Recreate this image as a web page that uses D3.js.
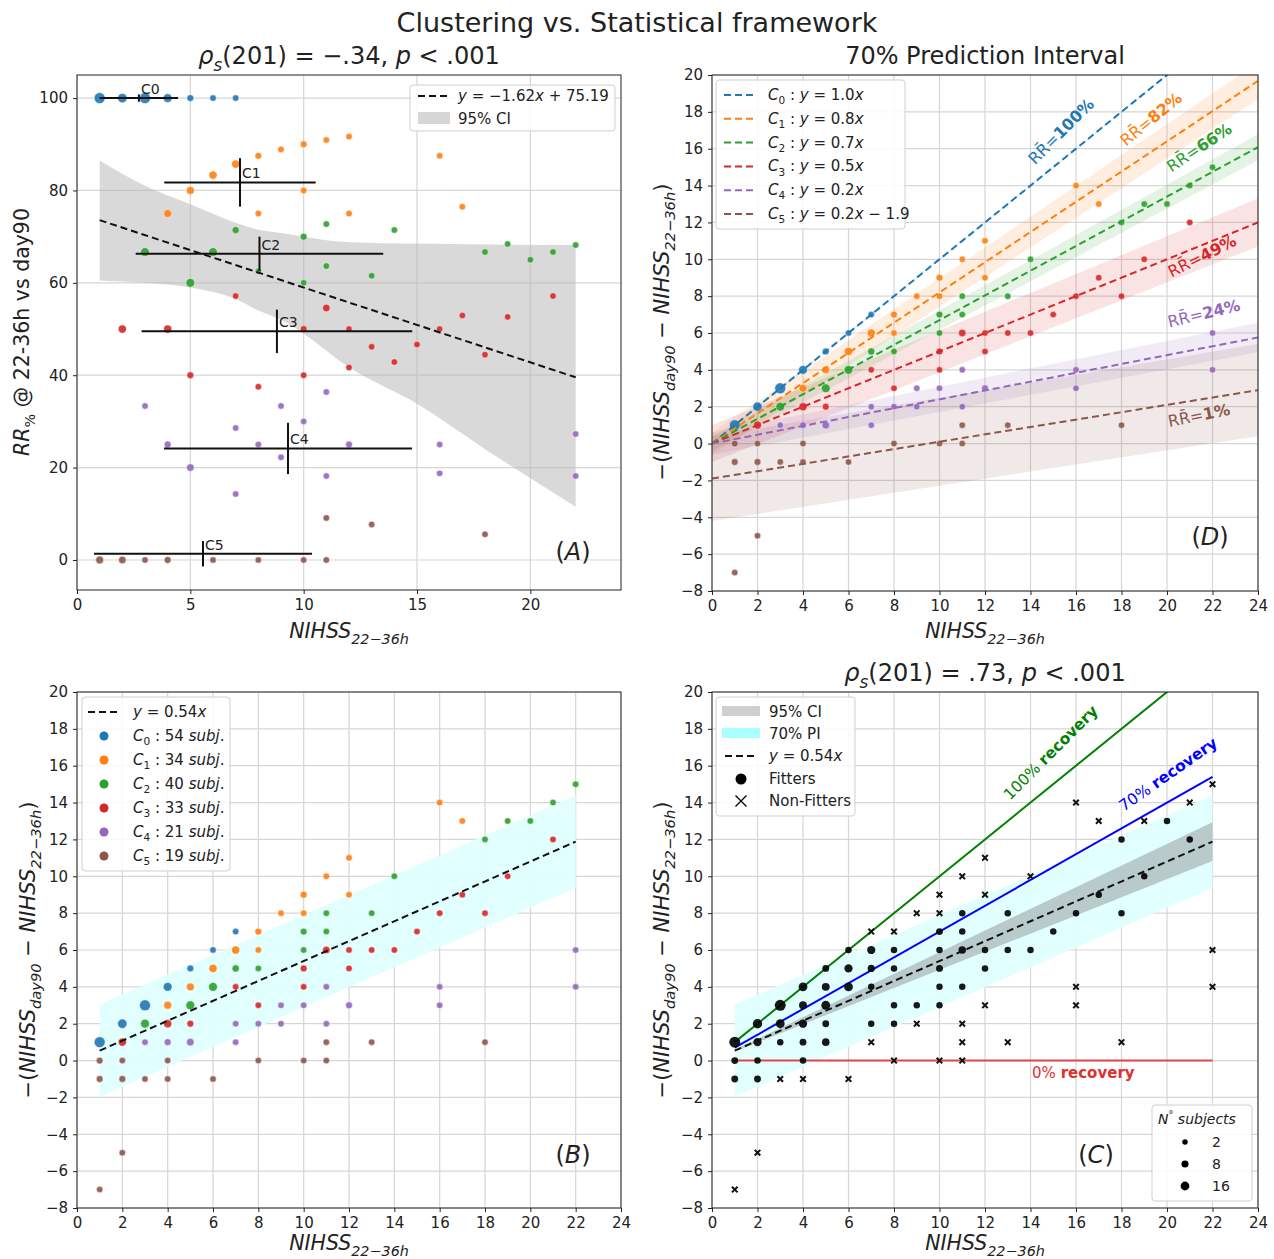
<!DOCTYPE html>
<html>
<head>
<meta charset="utf-8">
<script src="https://cdn.jsdelivr.net/npm/d3@7"></script>
<style>
  body { margin: 0; background: #fff; }
  text { font-family: "DejaVu Sans", sans-serif; }
</style>
</head>
<body>
<div id="chart"></div>
<script>
// ---- data: [NIHSS 22-36h, improvement, n subjects] per cluster ----
var c0Points = [[1,1,16],[2,2,10],[3,3,16],[4,4,8],[5,5,2],[6,6,1],[7,7,1]];
var c1Points = [[4,3,5],[5,4,5],[6,5,6],[7,6,6],[8,7,2],[8,6,1],[9,8,1],[10,9,2],[10,8,1],[11,10,1],[12,11,1],[12,9,1],[16,14,1],[17,13,1]];
var c2Points = [[3,2,8],[5,3,8],[6,4,8],[7,5,3],[8,5,1],[10,6,1],[10,7,2],[11,7,1],[11,8,1],[13,8,1],[14,10,1],[18,12,1],[19,13,1],[20,13,1],[21,14,1],[22,15,1]];
var c3Points = [[2,1,6],[4,2,6],[5,2,2],[7,4,1],[8,3,1],[10,5,2],[10,4,1],[11,6,4],[12,6,1],[12,5,1],[13,6,1],[14,6,1],[15,7,1],[16,8,1],[17,9,1],[18,8,1],[19,10,1],[21,12,1]];
var c4Points = [[3,1,1],[4,1,2],[5,1,4],[7,2,1],[7,1,1],[8,2,1],[9,3,1],[9,2,1],[10,3,1],[11,4,1],[11,2,1],[12,3,2],[16,4,1],[16,3,1],[22,6,1],[22,4,1]];
var c5Points = [[1,0,2],[1,-1,2],[1,-7,1],[2,0,1],[2,-1,2],[2,-5,1],[3,-1,1],[4,0,1],[4,-1,1],[6,-1,1],[8,0,1],[10,0,1],[11,0,1],[11,1,1],[13,1,1],[18,1,1]];
var clusters = [c0Points, c1Points, c2Points, c3Points, c4Points, c5Points];
var clusterNames = ["0", "1", "2", "3", "4", "5"];
var clusterSubj = [54, 34, 40, 33, 21, 19];
var clusterColors = ["#1f77b4", "#ff7f0e", "#2ca02c", "#d62728", "#9467bd", "#8c564b"];

// panel A: cluster centroids (mean +/- sd)
var centX = [2.73, 7.19, 8.05, 8.82, 9.31, 5.56];
var centXerr = [1.73, 3.34, 5.46, 5.97, 5.47, 4.81];
var centY = [100, 81.75, 66.3, 49.5, 24.15, 1.35];
var centYerr = [0.8, 5.25, 3.7, 4.7, 5.55, 2.75];
// panel A: regression + bootstrap CI
var aSlope = -1.62, aIntercept = 75.19;
var ciX = [1, 3, 5, 7, 8, 9, 10, 12, 15, 18, 22];
var ciLo = [60.5, 60.0, 59.0, 56.5, 54.0, 52.0, 49.0, 41.7, 33.8, 24.0, 11.5];
var ciHi = [86.5, 81.0, 77.0, 73.0, 71.5, 70.8, 70.0, 68.8, 68.5, 68.3, 68.2];

// panel D: per-cluster fits
var dSlopes = [1.0, 0.82, 0.67, 0.5, 0.24, 0.2];
var dIntercepts = [0, 0, 0, 0, 0, -1.9];
var dLegendFit = ["1.0", "0.8", "0.7", "0.5", "0.2", "0.2"];
var dPiStart = [0.05, 0.6, 0.4, 1.0, 0.6, 2.3];
var dPiEnd = [0.05, 1.0, 0.7, 1.3, 0.8, 2.5];
var rrValues = ["100%", "82%", "66%", "49%", "24%", "1%"];
var rrLabelX = [14.2, 18.2, 20.2, 20.2, 20.1, 20.1];
var rrLabelY = [15.1, 16.1, 14.7, 9.0, 6.3, 0.9];

// panels B and C: pooled fit
var bSlope = 0.54;
var piHalf = 2.5;
var ciSlopeLo = 0.492, ciSlopeHi = 0.588;
var fitRange = [1, 22];

// panel C: fitters [x, y, n] and non-fitters [x, y]
var cFitters = [[1,1,16],[2,2,10],[3,3,16],[4,4,8],[5,5,2],[4,3,5],[5,4,5],[6,5,6],[7,6,6],[8,6,1],[3,2,8],[5,3,8],[6,4,8],[7,5,3],[8,5,1],[10,6,1],[10,7,2],[11,7,1],[11,8,1],[13,8,1],[18,12,1],[20,13,1],[2,1,6],[4,2,6],[5,2,2],[7,4,1],[8,3,1],[10,5,2],[10,4,1],[11,6,4],[12,6,1],[12,5,1],[13,6,1],[14,6,1],[15,7,1],[16,8,1],[17,9,1],[18,8,1],[19,10,1],[21,12,1],[3,1,1],[4,1,2],[5,1,4],[7,2,1],[8,2,1],[9,3,1],[10,3,1],[11,4,1],[1,0,2],[1,-1,2],[2,0,1],[2,-1,2],[4,0,1],[6,6,1]];
var cNonFitters = [[1,-7],[2,-5],[3,-1],[4,-1],[6,-1],[8,0],[10,0],[11,0],[11,1],[13,1],[18,1],[7,1],[9,2],[11,2],[12,3],[16,3],[16,4],[22,4],[22,6],[7,7],[8,7],[9,8],[10,8],[10,9],[11,10],[12,11],[12,9],[14,10],[16,14],[17,13],[19,13],[21,14],[22,15]];
var sizeLegend = [2, 8, 16];

// ticks
var aXTicks = [0, 5, 10, 15, 20];
var aYTicks = [0, 20, 40, 60, 80, 100];
var xTicks = [0, 2, 4, 6, 8, 10, 12, 14, 16, 18, 20, 22, 24];
var yTicks = [-8, -6, -4, -2, 0, 2, 4, 6, 8, 10, 12, 14, 16, 18, 20];

var font = "DejaVu Sans";
var ink = "#222";
var gridColor = "#d6d6d6";

var svg = d3.select("#chart").append("svg")
  .attr("width", 1274)
  .attr("height", 1259);

var areaScale = d3.scaleLinear().domain([1, 16]).range([10.5, 30]);
function radius(n) { return Math.sqrt(areaScale(n)); }

// text with italic / subscript / bold runs: [["txt","isb"], ...]
function rich(t, parts, size) {
  var shift = 0;
  parts.forEach(function(p) {
    var f = p[1] || "";
    var ts = t.append("tspan").text(p[0]);
    var target = f.indexOf("s") >= 0 ? size * 0.28 : (f.indexOf("u") >= 0 ? -size * 0.4 : 0);
    if (target !== shift) { ts.attr("dy", target - shift); shift = target; }
    if (target !== 0) ts.attr("font-size", size * 0.7);
    if (f.indexOf("i") >= 0) ts.attr("font-style", "italic");
    if (f.indexOf("b") >= 0) ts.attr("font-weight", "bold");
  });
  return t;
}

var clipCount = 0;
function panel(box, xDom, yDom, xT, yT) {
  var g = svg.append("g").attr("transform", "translate(" + box.left + "," + box.top + ")");
  var x = d3.scaleLinear().domain(xDom).range([0, box.width]);
  var y = d3.scaleLinear().domain(yDom).range([box.height, 0]);
  var id = "clip" + (clipCount++);
  g.append("clipPath").attr("id", id).append("rect")
    .attr("width", box.width).attr("height", box.height);
  g.append("g").selectAll("line").data(xT).enter().append("line")
    .attr("x1", d => x(d)).attr("x2", d => x(d))
    .attr("y1", 0).attr("y2", box.height)
    .attr("stroke", gridColor).attr("stroke-width", 1.2);
  g.append("g").selectAll("line").data(yT).enter().append("line")
    .attr("y1", d => y(d)).attr("y2", d => y(d))
    .attr("x1", 0).attr("x2", box.width)
    .attr("stroke", gridColor).attr("stroke-width", 1.2);
  var plot = g.append("g").attr("clip-path", "url(#" + id + ")");
  return { g: g, plot: plot, x: x, y: y, box: box, xT: xT, yT: yT };
}

function finish(p) {
  var xa = p.g.append("g").attr("transform", "translate(0," + p.box.height + ")")
    .call(d3.axisBottom(p.x).tickValues(p.xT).tickSize(4).tickPadding(5).tickSizeOuter(0));
  var ya = p.g.append("g")
    .call(d3.axisLeft(p.y).tickValues(p.yT).tickSize(4).tickPadding(5).tickSizeOuter(0));
  [xa, ya].forEach(function(a) {
    a.attr("font-size", 15).attr("font-family", font);
    a.select(".domain").remove();
    a.selectAll("line").attr("stroke", ink);
    a.selectAll("text").attr("fill", ink);
  });
  p.g.append("rect").attr("width", p.box.width).attr("height", p.box.height)
    .attr("fill", "none").attr("stroke", ink).attr("stroke-width", 1);
}

function legendBox(x, y, w, h) {
  svg.append("rect").attr("x", x).attr("y", y).attr("width", w).attr("height", h)
    .attr("rx", 3).attr("fill", "#fff").attr("fill-opacity", 0.85)
    .attr("stroke", "#cfcfcf");
}

function dashSample(x, y, color) {
  svg.append("line").attr("x1", x).attr("x2", x + 32).attr("y1", y).attr("y2", y)
    .attr("stroke", color).attr("stroke-width", 2).attr("stroke-dasharray", "7,4");
}

function label(x, y, parts, size, opts) {
  opts = opts || {};
  var t = svg.append("text").attr("x", x).attr("y", y)
    .attr("font-size", size).attr("fill", opts.fill || ink)
    .attr("text-anchor", opts.anchor || "start");
  if (opts.rotate) t.attr("transform", "rotate(" + opts.rotate + "," + x + "," + y + ")");
  return rich(t, parts, size);
}

function drawClusters(p) {
  clusters.forEach(function(pts, i) {
    p.plot.append("g").selectAll("circle").data(pts).enter().append("circle")
      .attr("cx", d => p.x(d[0])).attr("cy", d => p.y(d[1]))
      .attr("r", d => radius(d[2]))
      .attr("fill", clusterColors[i]).attr("fill-opacity", 0.9)
      .attr("stroke", "#fff").attr("stroke-width", 0.5);
  });
}

var nihssLabel = [["NIHSS", "i"], ["22−36h", "is"]];
var deltaLabel = [["−(", ""], ["NIHSS", "i"], ["day90", "is"], [" − ", ""], ["NIHSS", "i"], ["22−36h", "is"], [")", ""]];

// ---------- suptitle ----------
label(637, 32, [["Clustering vs. Statistical framework", ""]], 27, { anchor: "middle" });

// ---------- panel A ----------
var pA = panel({ left: 77, top: 75, width: 544, height: 515 }, [0, 24], [-6.5, 105], aXTicks, aYTicks);
pA.plot.append("path")
  .datum(ciX.map((d, i) => [d, ciLo[i], ciHi[i]]))
  .attr("d", d3.area().x(d => pA.x(d[0])).y0(d => pA.y(d[1])).y1(d => pA.y(d[2])).curve(d3.curveMonotoneX))
  .attr("fill", "#b4b4b4").attr("fill-opacity", 0.5);
clusters.forEach(function(pts, i) {
  var rr = d3.rollups(pts, v => d3.sum(v, d => d[2]), d => d[0] + "|" + Math.max(0, d[1] / d[0] * 100))
    .map(function(e) { var k = e[0].split("|"); return [+k[0], +k[1], e[1]]; });
  pA.plot.append("g").selectAll("circle").data(rr).enter().append("circle")
    .attr("cx", d => pA.x(d[0])).attr("cy", d => pA.y(d[1]))
    .attr("r", d => radius(d[2]))
    .attr("fill", clusterColors[i]).attr("fill-opacity", 0.9)
    .attr("stroke", "#fff").attr("stroke-width", 0.5);
});
pA.plot.append("path")
  .datum(fitRange)
  .attr("d", d3.line().x(d => pA.x(d)).y(d => pA.y(aSlope * d + aIntercept)))
  .attr("stroke", "#111").attr("stroke-width", 2).attr("stroke-dasharray", "7,4").attr("fill", "none");
centX.forEach(function(cx, i) {
  var g = pA.plot.append("g");
  g.append("line").attr("x1", pA.x(cx - centXerr[i])).attr("x2", pA.x(cx + centXerr[i]))
    .attr("y1", pA.y(centY[i])).attr("y2", pA.y(centY[i]))
    .attr("stroke", "#111").attr("stroke-width", 2);
  g.append("line").attr("x1", pA.x(cx)).attr("x2", pA.x(cx))
    .attr("y1", pA.y(centY[i] - centYerr[i])).attr("y2", pA.y(centY[i] + centYerr[i]))
    .attr("stroke", "#111").attr("stroke-width", 2);
  g.append("text").attr("x", pA.x(cx) + 2).attr("y", pA.y(centY[i]) - 4)
    .attr("font-size", 14).attr("fill", ink).text("C" + clusterNames[i]);
});
finish(pA);
legendBox(410, 85, 205, 46);
dashSample(418, 96, "#111");
label(458, 101, [["y", "i"], [" = −1.62", ""], ["x", "i"], [" + 75.19", ""]], 15);
svg.append("rect").attr("x", 418).attr("y", 112).attr("width", 32).attr("height", 12).attr("fill", "#d6d6d6");
label(458, 124, [["95% CI", ""]], 15);
label(349, 64, [["ρ", "i"], ["s", "is"], ["(201) = −.34, ", ""], ["p", "i"], [" < .001", ""]], 24, { anchor: "middle" });
label(349, 638, nihssLabel, 20.5, { anchor: "middle" });
label(29, 332, [["RR", "i"], ["%", "s"], [" @ 22-36h vs day90", ""]], 20.5, { anchor: "middle", rotate: -90 });
label(573, 560, [["(", ""], ["A", "i"], [")", ""]], 24, { anchor: "middle" });

// ---------- panel D ----------
var pD = panel({ left: 712, top: 75, width: 546, height: 516 }, [0, 24], [-8, 20], xTicks, yTicks);
var dX = [0, 24];
dSlopes.forEach(function(m, i) {
  var b = dIntercepts[i];
  pD.plot.append("path")
    .datum(dX.map((d, j) => [d, j ? dPiEnd[i] : dPiStart[i]]))
    .attr("d", d3.area().x(d => pD.x(d[0])).y0(d => pD.y(m * d[0] + b - d[1])).y1(d => pD.y(m * d[0] + b + d[1])))
    .attr("fill", clusterColors[i]).attr("fill-opacity", 0.13);
});
drawClusters(pD);
dSlopes.forEach(function(m, i) {
  var b = dIntercepts[i];
  pD.plot.append("path").datum(dX)
    .attr("d", d3.line().x(d => pD.x(d)).y(d => pD.y(m * d + b)))
    .attr("stroke", clusterColors[i]).attr("stroke-width", 2).attr("stroke-dasharray", "7,4").attr("fill", "none");
  var lx = pD.box.left + pD.x(rrLabelX[i]), ly = pD.box.top + pD.y(rrLabelY[i]);
  label(lx, ly, [["RR̄=", ""], [rrValues[i], "b"]], 16,
    { fill: clusterColors[i], rotate: -Math.atan(m) * 180 / Math.PI });
});
finish(pD);
legendBox(716, 80, 189, 149);
dSlopes.forEach(function(m, i) {
  var yy = 95 + i * 23.8;
  dashSample(724, yy, clusterColors[i]);
  var parts = [["C", "i"], [clusterNames[i], "s"], [" : ", ""], ["y", "i"], [" = " + dLegendFit[i], ""], ["x", "i"]];
  if (dIntercepts[i] !== 0) parts.push([" − " + Math.abs(dIntercepts[i]).toFixed(1), ""]);
  label(768, yy + 5, parts, 15);
});
label(985, 64, [["70% Prediction Interval", ""]], 24, { anchor: "middle" });
label(985, 638, nihssLabel, 20.5, { anchor: "middle" });
label(669, 332, deltaLabel, 21, { anchor: "middle", rotate: -90 });
label(1210, 545, [["(", ""], ["D", "i"], [")", ""]], 24, { anchor: "middle" });

// ---------- panel B ----------
var pB = panel({ left: 77, top: 692, width: 544, height: 516 }, [0, 24], [-8, 20], xTicks, yTicks);
pB.plot.append("path").datum(fitRange)
  .attr("d", d3.area().x(d => pB.x(d)).y0(d => pB.y(bSlope * d - piHalf)).y1(d => pB.y(bSlope * d + piHalf)))
  .attr("fill", "#e0ffff").attr("fill-opacity", 0.95);
drawClusters(pB);
pB.plot.append("path").datum(fitRange)
  .attr("d", d3.line().x(d => pB.x(d)).y(d => pB.y(bSlope * d)))
  .attr("stroke", "#111").attr("stroke-width", 2).attr("stroke-dasharray", "7,4").attr("fill", "none");
finish(pB);
legendBox(82, 697, 148, 174);
dashSample(88, 712, "#111");
label(133, 717, [["y", "i"], [" = 0.54", ""], ["x", "i"]], 15);
clusterSubj.forEach(function(n, i) {
  var yy = 736 + i * 24;
  svg.append("circle").attr("cx", 104).attr("cy", yy).attr("r", 4.5).attr("fill", clusterColors[i]);
  label(133, yy + 5, [["C", "i"], [clusterNames[i], "s"], [" : " + n + " ", ""], ["subj", "i"], [".", ""]], 15);
});
label(349, 1250, nihssLabel, 20.5, { anchor: "middle" });
label(35, 950, deltaLabel, 21, { anchor: "middle", rotate: -90 });
label(573, 1163, [["(", ""], ["B", "i"], [")", ""]], 24, { anchor: "middle" });

// ---------- panel C ----------
var pC = panel({ left: 712, top: 692, width: 546, height: 516 }, [0, 24], [-8, 20], xTicks, yTicks);
pC.plot.append("path").datum(fitRange)
  .attr("d", d3.area().x(d => pC.x(d)).y0(d => pC.y(bSlope * d - piHalf)).y1(d => pC.y(bSlope * d + piHalf)))
  .attr("fill", "#e0ffff").attr("fill-opacity", 0.95);
pC.plot.append("path").datum(fitRange)
  .attr("d", d3.area().x(d => pC.x(d)).y0(d => pC.y(ciSlopeLo * d)).y1(d => pC.y(ciSlopeHi * d)))
  .attr("fill", "#7a7a7a").attr("fill-opacity", 0.4);
var recLines = [[1.0, "#008000"], [0.7, "#0000ff"], [0, "#e04848"]];
recLines.forEach(function(r) {
  pC.plot.append("path").datum(fitRange)
    .attr("d", d3.line().x(d => pC.x(d)).y(d => pC.y(r[0] * d)))
    .attr("stroke", r[1]).attr("stroke-width", 2).attr("fill", "none");
});
pC.plot.append("g").selectAll("circle").data(cFitters).enter().append("circle")
  .attr("cx", d => pC.x(d[0])).attr("cy", d => pC.y(d[1])).attr("r", d => radius(d[2]))
  .attr("fill", "#000").attr("fill-opacity", 0.9);
pC.plot.append("g").selectAll("path").data(cNonFitters).enter().append("path")
  .attr("transform", d => "translate(" + pC.x(d[0]) + "," + pC.y(d[1]) + ")")
  .attr("d", "M-2.8,-2.8L2.8,2.8M-2.8,2.8L2.8,-2.8")
  .attr("stroke", "#111").attr("stroke-width", 2);
pC.plot.append("path").datum(fitRange)
  .attr("d", d3.line().x(d => pC.x(d)).y(d => pC.y(bSlope * d)))
  .attr("stroke", "#111").attr("stroke-width", 2).attr("stroke-dasharray", "7,4").attr("fill", "none");
finish(pC);
// recovery annotations
label(pC.box.left + pC.x(13.1), pC.box.top + pC.y(14.1), [["100% ", ""], ["recovery", "b"]], 15.5, { fill: "#008000", rotate: -45 });
label(pC.box.left + pC.x(18.1), pC.box.top + pC.y(13.5), [["70% ", ""], ["recovery", "b"]], 15.5, { fill: "#0000ff", rotate: -Math.atan(0.7) * 180 / Math.PI });
label(pC.box.left + pC.x(14.07), pC.box.top + pC.y(-0.95), [["0% ", ""], ["recovery", "b"]], 15, { fill: "#e03030" });
// legend
legendBox(716, 697, 139, 119);
svg.append("rect").attr("x", 722).attr("y", 706).attr("width", 38).attr("height", 10).attr("fill", "#cfcfcf");
label(769, 717, [["95% CI", ""]], 15);
svg.append("rect").attr("x", 722).attr("y", 728).attr("width", 38).attr("height", 10).attr("fill", "#aaffff");
label(769, 739, [["70% PI", ""]], 15);
dashSample(725, 756, "#111");
label(769, 761, [["y", "i"], [" = 0.54", ""], ["x", "i"]], 15);
svg.append("circle").attr("cx", 741).attr("cy", 779).attr("r", 5.5).attr("fill", "#000");
label(769, 784, [["Fitters", ""]], 15);
svg.append("path").attr("transform", "translate(741,801)").attr("d", "M-5.5,-5.5L5.5,5.5M-5.5,5.5L5.5,-5.5")
  .attr("stroke", "#000").attr("stroke-width", 1.3);
label(769, 806, [["Non-Fitters", ""]], 15);
// size legend
legendBox(1152, 1105, 100, 96);
label(1158, 1124, [["N", "i"], ["°", "u"], [" subjects", "i"]], 14);
sizeLegend.forEach(function(n, i) {
  var yy = 1142 + i * 22;
  svg.append("circle").attr("cx", 1185).attr("cy", yy).attr("r", radius(n) * 0.8).attr("fill", "#000");
  label(1212, yy + 5, [["" + n, ""]], 14);
});
label(985, 681, [["ρ", "i"], ["s", "is"], ["(201) = .73, ", ""], ["p", "i"], [" < .001", ""]], 24, { anchor: "middle" });
label(985, 1250, nihssLabel, 20.5, { anchor: "middle" });
label(669, 950, deltaLabel, 21, { anchor: "middle", rotate: -90 });
label(1096, 1163, [["(", ""], ["C", "i"], [")", ""]], 24, { anchor: "middle" });
</script>
</body>
</html>
